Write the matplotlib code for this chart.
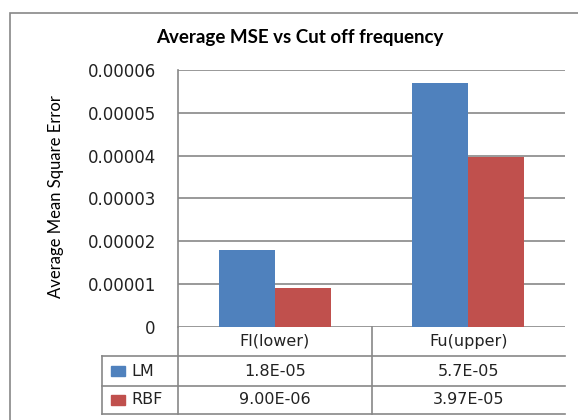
import matplotlib
matplotlib.use("Agg")
from matplotlib import pyplot as plt
from matplotlib.patches import Rectangle
import numpy as np

categories = ['Fl(lower)', 'Fu(upper)']
series_names = ['LM', 'RBF']
lm_values = [1.8e-05, 5.7e-05]
rbf_values = [9.0e-06, 3.97e-05]
lm_labels = ['1.8E-05', '5.7E-05']
rbf_labels = ['9.00E-06', '3.97E-05']
yticks = [0, 0.00001, 0.00002, 0.00003, 0.00004, 0.00005, 0.00006]
ytick_labels = ['0', '0.00001', '0.00002', '0.00003', '0.00004', '0.00005', '0.00006']

blue = '#4F81BD'
red = '#C0504D'
grid_col = '#878787'

W, H = 578, 420
fig = plt.figure(figsize=(W / 100, H / 100), dpi=100)

# outer chart border (runs off the right and bottom of the picture)
fig.patches.append(Rectangle((10 / W, -0.1), 1.2, 1 - 13 / H + 0.1, transform=fig.transFigure,
                             fill=False, edgecolor=grid_col, linewidth=1.2))

left, right, top, bottom = 178, 565, 70, 327
ax = fig.add_axes([left / W, 1 - bottom / H, (right - left) / W, (bottom - top) / H])

x = np.arange(len(categories))
bw = 0.29
ax.bar(x - bw / 2, lm_values, bw, color=blue, zorder=3)
ax.bar(x + bw / 2, rbf_values, bw, color=red, zorder=3)

ax.set_xlim(-0.5, len(categories) - 0.5)
ax.set_ylim(0, 0.00006)
ax.set_yticks(yticks)
ax.set_yticklabels(ytick_labels, fontsize=12, family='DejaVu Sans', color='#222222')
ax.tick_params(axis='y', length=0, pad=16)
ax.set_xticks([])
ax.grid(axis='y', color=grid_col, linewidth=1.2, zorder=0)
for s in ['top', 'right', 'bottom']:
    ax.spines[s].set_visible(False)
ax.spines['left'].set_color(grid_col)
ax.spines['left'].set_linewidth(1.2)

# data table under the axis
ph = bottom - top
pw = right - left
def ay(py):
    return (bottom - py) / ph
def axx(px):
    return (px - left) / pw

row_lines = [356, 386, 414]
line_kw = dict(color=grid_col, linewidth=1.2, transform=ax.transAxes, clip_on=False)
for ry in row_lines:
    ax.plot([axx(102), 1], [ay(ry), ay(ry)], **line_kw)
ax.plot([0, 0], [0, ay(414)], **line_kw)
ax.plot([axx(102), axx(102)], [ay(356), ay(414)], **line_kw)
ax.plot([0.5, 0.5], [0, ay(414)], **line_kw)

tf = ax.get_xaxis_transform()
txt_kw = dict(fontsize=11.5, family='DejaVu Sans', color='#222222', ha='center', va='center')
for i, c in enumerate(categories):
    ax.text(i, ay(341.5), c, transform=tf, **txt_kw)
    ax.text(i, ay(371), lm_labels[i], transform=tf, **txt_kw)
    ax.text(i, ay(400), rbf_labels[i], transform=tf, **txt_kw)

for name, col, cy in zip(series_names, [blue, red], [371, 400]):
    ax.add_patch(Rectangle((axx(111), ay(cy + 5)), axx(125) - axx(111), ay(cy - 5) - ay(cy + 5),
                           transform=ax.transAxes, color=col, clip_on=False))
    ax.text(axx(131), ay(cy), name, transform=ax.transAxes, fontsize=11.5,
            family='DejaVu Sans', color='#222222', ha='left', va='center')

fig.text(300 / W, 1 - 38 / H, 'Average MSE vs Cut off frequency', ha='center', va='center',
         fontsize=13.5, fontweight='bold', family='Lato')
fig.text(56 / W, 1 - 197 / H, 'Average Mean Square Error', ha='center', va='center',
         rotation=90, fontsize=12, family='Lato')

fig.savefig('out.png', dpi=100)
